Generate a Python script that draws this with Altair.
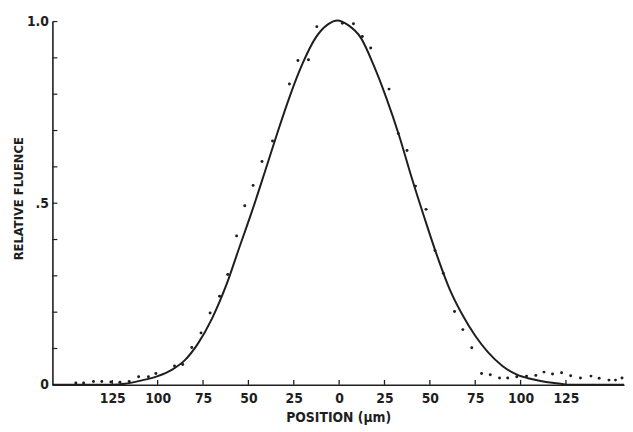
import altair as alt
import pandas as pd

# measured points (position in µm, relative fluence)
pos = [-145.1, -140.8, -135.4, -130.8, -125.8, -120.8, -115.7, -110.5, -105.1, -101.0,
       -90.7, -86.2, -81.2, -76.1, -71.1, -65.9, -61.4, -56.5, -52.0, -47.4,
       -42.5, -36.7, -27.4, -22.7, -16.9, -12.3, 1.8, 7.9, 12.8, 17.4,
       27.5, 32.6, 37.4, 42.1, 47.9, 52.8, 57.4, 63.6, 68.2, 73.1,
       78.5, 83.3, 88.4, 92.9, 97.9, 103.3, 108.4, 112.9, 117.6, 122.6,
       127.6, 133.0, 138.8, 143.3, 148.7, 152.3, 155.9]
flu = [0.005, 0.005, 0.009, 0.009, 0.008, 0.007, 0.009, 0.022, 0.022, 0.031,
       0.052, 0.056, 0.103, 0.143, 0.198, 0.244, 0.304, 0.410, 0.493, 0.549,
       0.615, 0.671, 0.828, 0.893, 0.895, 0.986, 0.995, 0.994, 0.959, 0.927,
       0.814, 0.692, 0.645, 0.547, 0.483, 0.370, 0.307, 0.202, 0.152, 0.102,
       0.031, 0.028, 0.019, 0.019, 0.022, 0.024, 0.026, 0.035, 0.030, 0.033,
       0.025, 0.019, 0.024, 0.018, 0.013, 0.013, 0.019]

# fitted curve
curve_x = [-158, -125, -118, -110, -100, -92, -85, -78, -70, -62, -55, -48, -41, -34,
           -27, -20, -13, -6, -1, 5, 12, 19, 26, 33, 40, 47, 54, 61, 68, 75,
           82, 90, 98, 106, 114, 122, 127, 157]
curve_y = [0.0, 0.0, 0.003, 0.011, 0.024, 0.042, 0.068, 0.112, 0.183, 0.277, 0.378, 0.478,
           0.585, 0.694, 0.797, 0.886, 0.955, 0.993, 1.003, 0.99, 0.955, 0.88, 0.79,
           0.687, 0.57, 0.46, 0.355, 0.262, 0.192, 0.135, 0.09, 0.052, 0.028, 0.016,
           0.008, 0.003, 0.0, 0.0]

x_ticks = [-125, -100, -75, -50, -25, 0, 25, 50, 75, 100, 125]
y_minor = [0.1, 0.2, 0.3, 0.4, 0.5, 0.6, 0.7, 0.8, 0.9, 1.0]
y_labels = [0, 0.5, 1.0]

ink = "#1e1e1e"
font = "'Liberation Sans Narrow', 'DejaVu Sans Condensed', 'Roboto Condensed', sans-serif"

W, H = 579, 368
xscale = alt.Scale(domain=[-158, 157], nice=False, zero=False)
yscale = alt.Scale(domain=[0, 1], nice=False)

pts = pd.DataFrame({"x": pos, "y": flu})
crv = pd.DataFrame({"x": curve_x, "y": curve_y})
xt = pd.DataFrame({"x": x_ticks})
yt = pd.DataFrame({"y": y_minor})

xaxis = alt.Axis(values=x_ticks, labelExpr="abs(datum.value)", ticks=False, grid=False,
                 domainColor=ink, domainWidth=1.6, labelFont=font, labelFontSize=14,
                 labelFontWeight="bold", labelColor=ink, labelPadding=7,
                 title="POSITION (μm)", titleFont=font, titleFontSize=14,
                 titleFontWeight="bold", titleColor=ink, titleY=33, titleBaseline="middle")
yaxis = alt.Axis(values=y_labels,
                 labelExpr="datum.value == 0 ? '0' : (datum.value == 1 ? '1.0' : '.5')",
                 ticks=False, grid=False, domainColor=ink, domainWidth=1.6,
                 labelFont=font, labelFontSize=14, labelFontWeight="bold", labelColor=ink,
                 labelPadding=4, title="RELATIVE FLUENCE", titleFont=font, titleFontSize=13,
                 titleFontWeight="bold", titleColor=ink, titleX=-34, titleY=179,
                 titleBaseline="middle", titleAlign="center")

X = alt.X("x:Q", scale=xscale, axis=xaxis)
Y = alt.Y("y:Q", scale=yscale, axis=yaxis)

points = alt.Chart(pts).mark_circle(size=9, color=ink, opacity=1).encode(x=X, y=Y)
line = alt.Chart(crv).mark_line(color=ink, strokeWidth=2, interpolate="monotone").encode(x=X, y=Y)
xtick = alt.Chart(xt).mark_rule(color=ink, strokeWidth=1.3).encode(
    x=X, y=alt.value(H), y2=alt.value(H - 5),
)
ytick = alt.Chart(yt).mark_rule(color=ink, strokeWidth=1.2).encode(
    y=Y, x=alt.value(0), x2=alt.value(5),
)

chart = alt.layer(points, line, xtick, ytick).properties(
    width=W, height=H,
    autosize=alt.AutoSizeParams(type="none"),
    padding={"left": 45, "top": 11, "right": 1, "bottom": 41},
    background="#ffffff",
).configure_view(stroke=None)

chart.save("out.html", embed_options={"renderer": "svg", "actions": False})
